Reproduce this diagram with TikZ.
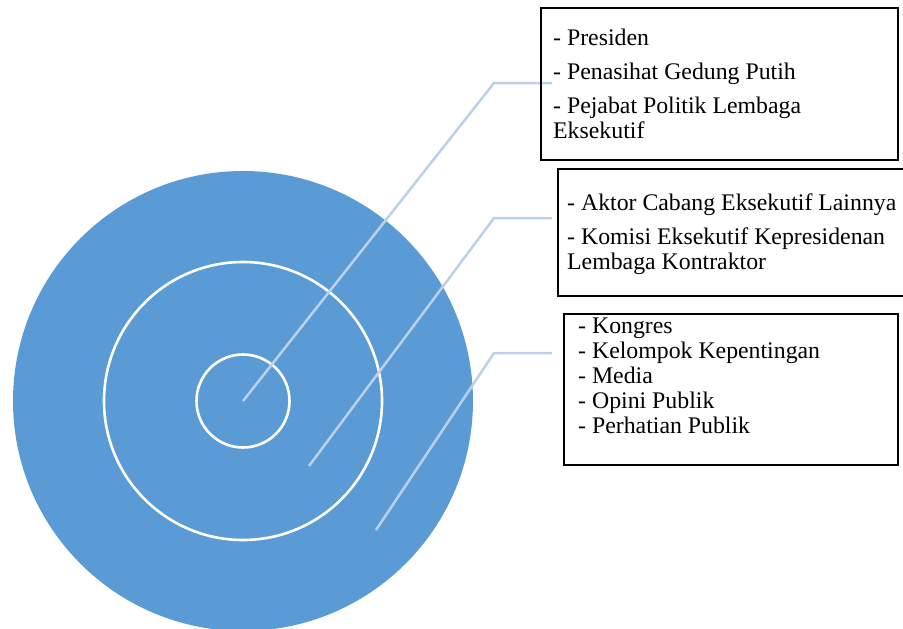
\documentclass[tikz,border=0pt]{standalone}
\usepackage{fontspec}
\setmainfont{Liberation Serif}
\definecolor{ringblue}{RGB}{91,155,213}
\definecolor{linkblue}{RGB}{189,208,233}
\begin{document}
\begin{tikzpicture}[x=1pt,y=-1pt,
    ring/.style={draw=white,line width=2.6pt},
    link/.style={draw=linkblue,line width=2.5pt},
    box/.style={draw=black,line width=1.5pt,anchor=north west,inner sep=0pt},
    list/.style={anchor=north west,inner sep=0pt,align=left,
      font=\fontsize{23.8}{25}\selectfont}]
    \useasboundingbox (0,0) rectangle (903,629);
    \clip (0,0) rectangle (903,629);
    % the three rings
    \fill[ringblue] (243,401) circle[radius=230pt];
    \draw[ring] (243,401) circle[radius=139pt];
    \draw[ring] (243,401) circle[radius=46.5pt];
    % ends of the leader lines
    \coordinate (p1) at (243,401);
    \coordinate (p2) at (309,466);
    \coordinate (p3) at (376,530);
    \coordinate (k1) at (494,83);
    \coordinate (k2) at (494,218);
    \coordinate (k3) at (494,353);
    \coordinate (e1) at (552,83);
    \coordinate (e2) at (552,218);
    \coordinate (e3) at (552,353);
    \draw[link] (p1) -- (k1) -- (e1);
    \draw[link] (p2) -- (k2) -- (e2);
    \draw[link] (p3) -- (k3) -- (e3);
    % boxes
    \node[box,minimum width=357pt,minimum height=152pt] (b1) at (540,7) {};
    \node[box,minimum width=360pt,minimum height=127pt] (b2) at (557,168) {};
    \node[box,minimum width=334pt,minimum height=151pt] (b3) at (563,313) {};
    \node[list] (t1) at (553,28.7) {- Presiden\\[9pt]- Penasihat Gedung Putih\\[9pt]- Pejabat Politik Lembaga\\Eksekutif};
    \node[list] (t2) at (567,194) {- Aktor Cabang Eksekutif Lainnya\\[9pt]- Komisi Eksekutif Kepresidenan\\Lembaga Kontraktor};
    \node[list] (t3) at (578,318) {- Kongres\\- Kelompok Kepentingan\\- Media\\- Opini Publik\\- Perhatian Publik};
\end{tikzpicture}
\end{document}
